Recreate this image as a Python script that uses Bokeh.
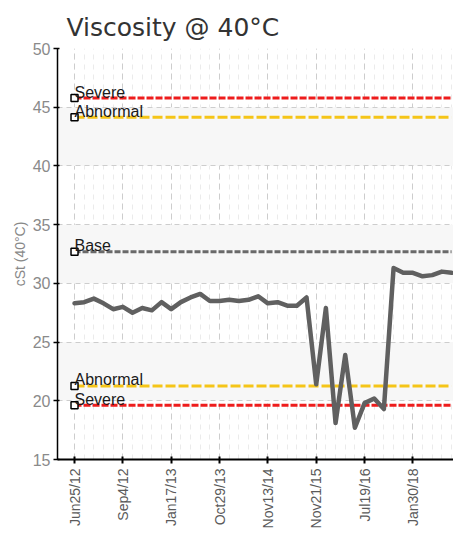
from bokeh.plotting import figure
from bokeh.models import FixedTicker, Range1d, ColumnDataSource
from bokeh.core.properties import value
from bokeh.embed import file_html
from bokeh.resources import INLINE

# ---- data ----
title_text = "Viscosity @ 40°C"
y_label = "cSt (40°C)"
tick_labels = ["Jun25/12", "Sep4/12", "Jan17/13", "Oct29/13",
               "Nov13/14", "Nov21/15", "Jul19/16", "Jan30/18"]
label_every = 5
viscosity = [28.3, 28.4, 28.7, 28.3, 27.8, 28.0, 27.5, 27.9, 27.7, 28.4,
             27.8, 28.4, 28.8, 29.1, 28.5, 28.5, 28.6, 28.5, 28.6, 28.9,
             28.3, 28.4, 28.1, 28.1, 28.8, 21.4, 27.9, 18.1, 23.9, 17.7,
             19.8, 20.2, 19.3, 31.3, 30.9, 30.9, 30.6, 30.7, 31.0, 30.9]
limit_names = ["Severe", "Abnormal", "Base", "Abnormal", "Severe"]
limit_values = [45.78, 44.15, 32.7, 21.26, 19.62]
limit_colors = ["#ee1c1c", "#f5c518", "#6a6a6a", "#f5c518", "#ee1c1c"]
limit_dashes = ["7 2", "10 3", "6 2", "10 3", "7 2"]
y_min, y_max, y_step = 15, 50, 5

# ---- figure ----
x = list(range(len(viscosity)))
p = figure(width=453, height=531, output_backend="svg", toolbar_location=None,
           x_range=Range1d(-1.76, 39.2), y_range=Range1d(y_min, y_max),
           min_border_left=57, min_border_right=0, min_border_top=48,
           min_border_bottom=68)
p.outline_line_color = None
p.background_fill_color = "white"

p.title.text = title_text
p.title.text_font = "DejaVu Sans"
p.title.text_font_size = "25px"
p.title.text_font_style = "normal"
p.title.text_color = "#333333"
p.title.align = "left"
p.title.offset = 9
p.title.standoff = 13

# x axis
major = [i * label_every for i in range(len(tick_labels))]
p.xaxis.ticker = FixedTicker(ticks=major, minor_ticks=x)
p.xaxis.major_label_overrides = {m: l for m, l in zip(major, tick_labels)}
p.xaxis.major_label_orientation = 1.5707963
p.xaxis.major_label_text_font = "Liberation Sans"
p.xaxis.major_label_text_font_size = "14px"
p.xaxis.major_label_text_color = "#5a5a5a"
p.xaxis.major_label_standoff = 5
p.xaxis.axis_label_standoff = 0
p.xaxis.axis_line_color = "black"
p.xaxis.axis_line_width = 2
p.xaxis.major_tick_line_color = "black"
p.xaxis.major_tick_line_width = 2
p.xaxis.major_tick_out = 4
p.xaxis.major_tick_in = 3
p.xaxis.minor_tick_out = 0
p.xaxis.minor_tick_in = 0
p.xaxis.minor_tick_line_color = None

# y axis
yt = list(range(y_min, y_max + 1, y_step))
p.yaxis.ticker = FixedTicker(ticks=yt, minor_ticks=[])
p.yaxis.axis_label = y_label
p.yaxis.axis_label_text_font = "Liberation Sans"
p.yaxis.axis_label_text_font_size = "14px"
p.yaxis.axis_label_text_font_style = "normal"
p.yaxis.axis_label_text_color = "#888888"
p.yaxis.axis_label_standoff = 2
p.yaxis.major_label_text_font = "Liberation Sans"
p.yaxis.major_label_text_font_size = "16px"
p.yaxis.major_label_text_color = "#8a8a8a"
p.yaxis.major_label_standoff = 3
p.yaxis.axis_line_color = "black"
p.yaxis.axis_line_width = 1.5
p.yaxis.major_tick_line_color = "black"
p.yaxis.major_tick_line_width = 1.5
p.yaxis.major_tick_out = 4
p.yaxis.major_tick_in = 2
p.yaxis.minor_tick_line_color = None

# grids
p.xgrid.grid_line_color = "#cdcdcd"
p.xgrid.grid_line_dash = "6 4"
p.xgrid.minor_grid_line_color = "#ebebeb"
p.xgrid.minor_grid_line_dash = "5 5"
p.ygrid.grid_line_color = "#cdcdcd"
p.ygrid.grid_line_dash = "5 4"
p.ygrid.band_fill_color = "#f7f7f7"
p.ygrid.band_fill_alpha = 1.0

# limit lines
for v, c, d in zip(limit_values, limit_colors, limit_dashes):
    p.line(x=[x[0], x[-1]], y=[v, v], line_color=c, line_width=3, line_dash=d)

# data line
p.line(x=x, y=viscosity, line_color="#606060", line_width=4.5,
       line_join="round", line_cap="round")

# limit markers and labels
src = ColumnDataSource(dict(x=[x[0]] * len(limit_values), y=limit_values,
                            name=limit_names))
p.scatter(x="x", y="y", source=src, marker="square", size=7,
          fill_color="white", line_color="black", line_width=1.5)
p.text(x="x", y="y", text="name", source=src, text_font=value("Liberation Sans"),
       text_font_size="16px", text_color="#1a1a1a", text_baseline="alphabetic",
       text_align="left", x_offset=0, y_offset=-6)

open("out.html", "w").write(file_html(p, INLINE))
